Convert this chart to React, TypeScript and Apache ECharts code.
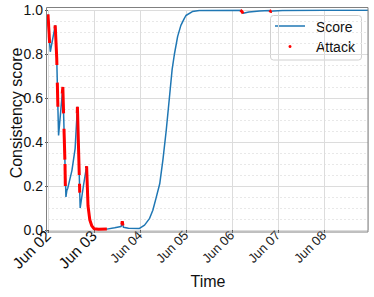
import React, { useEffect, useRef } from "react";
import * as echarts from "echarts";

// Time in days since Jun 02 00:00
const TICK_LABELS = ["Jun 02", "Jun 03", "Jun 04", "Jun 05", "Jun 06", "Jun 07", "Jun 08"];
const Y_TICKS_STEP = 0.2;

const scoreTimes = [
  0, 0.035, 0.05, 0.157, 0.19, 0.23, 0.323, 0.39, 0.41, 0.43, 0.52, 0.59, 0.64,
  0.70, 0.77, 0.84, 0.87, 0.91, 0.95, 1.0, 1.1, 1.28, 1.45, 1.59, 1.615, 1.64,
  1.75, 1.99, 2.10, 2.21, 2.28, 2.35, 2.43, 2.50, 2.57, 2.64, 2.70, 2.75, 2.82,
  2.89, 2.96, 3.0, 3.14, 3.29, 4.19, 4.21, 4.245, 4.37, 4.6, 4.82, 4.85, 4.9,
  5.1, 6.0, 6.96,
];
const scoreValues = [
  0.98, 0.85, 0.81, 0.93, 0.78, 0.43, 0.65, 0.15, 0.18, 0.19, 0.27, 0.37, 0.56,
  0.10, 0.20, 0.29, 0.11, 0.045, 0.02, 0.006, 0.003, 0.004, 0.01, 0.016, 0.04, 0.012,
  0.008, 0.007, 0.022, 0.053, 0.09, 0.145, 0.21, 0.32, 0.45, 0.60, 0.73, 0.80, 0.88,
  0.93, 0.96, 0.975, 0.993, 0.998, 0.999, 0.995, 0.985, 0.991, 0.996, 0.998, 0.993, 0.996,
  0.998, 0.999, 0.999,
];

const attack1 = [[0, 0.98], [0.035, 0.85]];
const attack2 = [[0.15, 0.915], [0.157, 0.93], [0.19, 0.78], [0.1934, 0.75]];
const attack3 = [[0.2026, 0.67], [0.215, 0.56]];
const attack4 = [[0.31, 0.62], [0.323, 0.65], [0.339, 0.53]];
const attack5 = [[0.348, 0.46], [0.367, 0.32]];
const attack6 = [[0.37, 0.30], [0.377, 0.20]];
const attack7 = [[0.636, 0.53], [0.64, 0.56], [0.68, 0.25]];
const attack8 = [[0.685, 0.21], [0.69, 0.17]];
const attack9 = [[0.835, 0.28], [0.84, 0.29], [0.87, 0.11], [0.91, 0.045], [0.95, 0.02], [1.0, 0.006], [1.1, 0.003], [1.28, 0.004]];
const attack10 = [[1.605, 0.025], [1.615, 0.04], [1.63, 0.02]];
const attack11 = [[4.185, 0.999], [4.21, 0.995], [4.245, 0.985]];
const attack12 = [[4.815, 0.998], [4.85, 0.993], [4.865, 0.994]];
const attackSegments = [attack1, attack2, attack3, attack4, attack5, attack6, attack7, attack8, attack9, attack10, attack11, attack12];

const FONT = "Liberation Sans";

export default function App() {
  const ref = useRef<HTMLDivElement>(null);
  useEffect(() => {
    document.body.style.margin = "0";
    const chart = echarts.init(ref.current!, null, { renderer: "svg" });
    const scoreData = scoreTimes.map((t, i) => [t, scoreValues[i]]);
    const attackSeries = attackSegments.map((seg) => ({
      type: "line",
      name: "Attack",
      data: seg,
      showSymbol: false,
      symbol: "none",
      z: 5,
      lineStyle: { color: "#ff0000", width: 3 },
      silent: true,
    }));
    chart.setOption({
      animation: false,
      backgroundColor: "#ffffff",
      grid: { left: 48, right: 6, top: 10, bottom: 67, containLabel: false },
      xAxis: {
        type: "value",
        min: 0,
        max: 6.96,
        interval: 1,
        axisLine: { show: false },
        axisTick: { show: true, length: 3, lineStyle: { color: "#555" } },
        splitLine: { show: true, lineStyle: { color: "#dcdcdc", width: 1 } },
        axisLabel: {
          rotate: 45,
          margin: 3,
          showMaxLabel: false,
          formatter: (v: number) => {
            const d = Math.round(v);
            if (Math.abs(v - d) > 1e-6 || d < 0 || d >= TICK_LABELS.length) return "";
            return d < 2 ? `{big|${TICK_LABELS[d]}}` : `{small|${TICK_LABELS[d]}}`;
          },
          rich: {
            big: { fontSize: 15.5, fontFamily: FONT, color: "#111" },
            small: { fontSize: 13, fontFamily: FONT, color: "#222" },
          },
        },
      },
      yAxis: {
        type: "value",
        min: 0,
        max: 1,
        interval: Y_TICKS_STEP,
        axisLine: { show: false },
        axisTick: { show: true, length: 3, lineStyle: { color: "#555" } },
        splitLine: { show: true, lineStyle: { color: "#dcdcdc", width: 1 } },
        minorTick: { show: false, splitNumber: 4 },
        minorSplitLine: { show: true, lineStyle: { color: "#e8e8e8", width: 1, type: [2, 2] } },
        axisLabel: {
          margin: 5,
          fontSize: 14,
          fontFamily: FONT,
          color: "#111",
          formatter: (v: number) => v.toFixed(1),
        },
      },
      series: [
        {
          type: "line",
          name: "Score",
          data: scoreData,
          showSymbol: false,
          symbol: "none",
          z: 3,
          lineStyle: { color: "#1f77b4", width: 1.5 },
          silent: true,
        },
        ...attackSeries,
      ],
      graphic: [
        {
          type: "rect",
          z: 50,
          silent: true,
          shape: { x: 46.5, y: 7.5, width: 321.5, height: 224.5 },
          style: { fill: "none", stroke: "#808080", lineWidth: 1 },
        },
        {
          type: "text",
          x: 16,
          y: 113,
          rotation: Math.PI / 2,
          style: {
            text: "Consistency score",
            fontSize: 16,
            fontFamily: FONT,
            fill: "#111",
            align: "center",
            verticalAlign: "middle",
          },
        },
        {
          type: "text",
          x: 208,
          y: 281,
          style: {
            text: "Time",
            fontSize: 16,
            fontFamily: FONT,
            fill: "#111",
            align: "center",
            verticalAlign: "middle",
          },
        },
        {
          type: "group",
          z: 60,
          children: [
            {
              type: "rect",
              shape: { x: 270.5, y: 15.5, width: 91, height: 44.5, r: 3 },
              style: { fill: "rgba(255,255,255,0.85)", stroke: "#d0d0d0", lineWidth: 1 },
            },
            {
              type: "line",
              shape: { x1: 275, y1: 26, x2: 305, y2: 26 },
              style: { stroke: "#1f77b4", lineWidth: 1.5 },
            },
            {
              type: "circle",
              shape: { cx: 290, cy: 46.5, r: 1.5 },
              style: { fill: "#ff0000" },
            },
            {
              type: "text",
              x: 316,
              y: 26.5,
              style: { text: "Score", fontSize: 14, fontFamily: FONT, fill: "#111", align: "left", verticalAlign: "middle" },
            },
            {
              type: "text",
              x: 316,
              y: 47,
              style: { text: "Attack", fontSize: 14, fontFamily: FONT, fill: "#111", align: "left", verticalAlign: "middle" },
            },
          ],
        },
      ],
    });
    return () => chart.dispose();
  }, []);
  return <div ref={ref} style={{ width: 374, height: 297 }} />;
}
